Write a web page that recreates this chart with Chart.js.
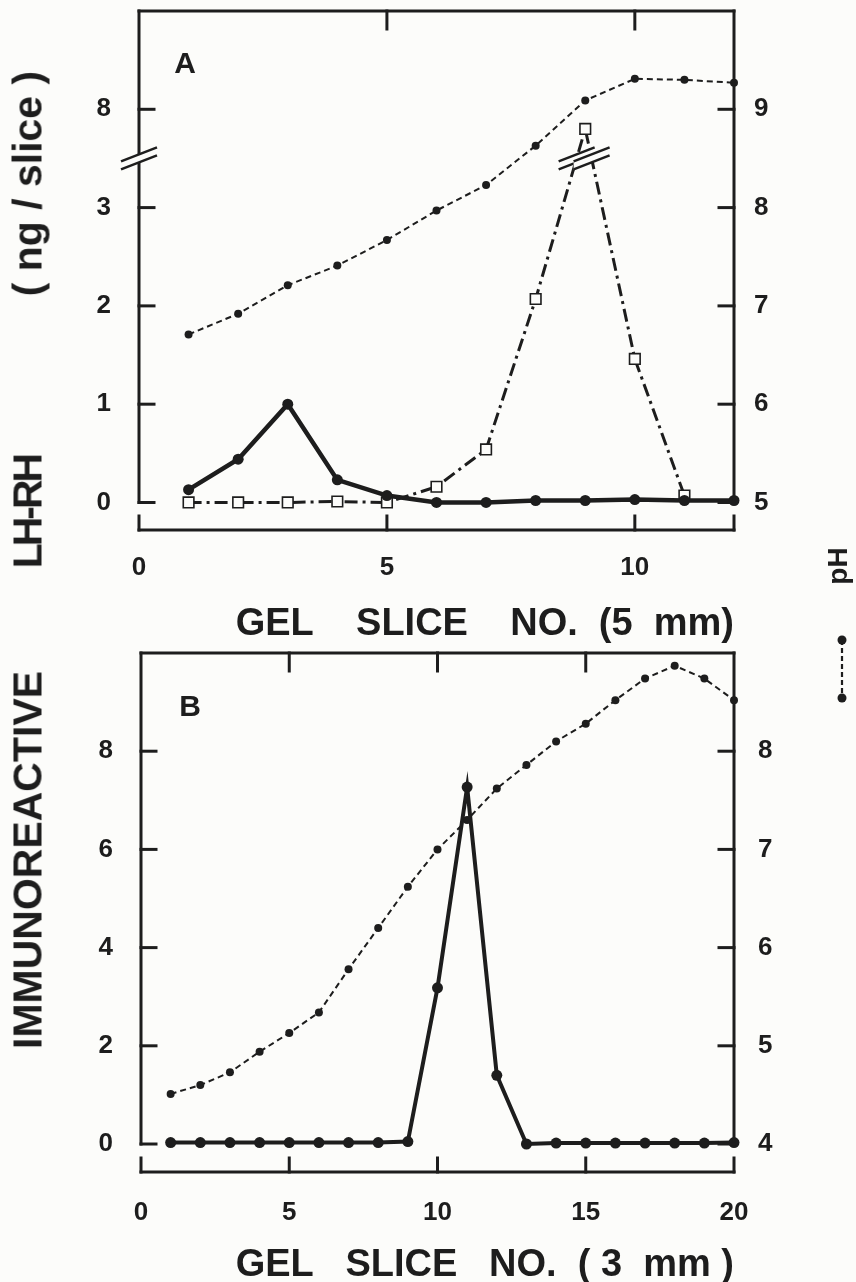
<!DOCTYPE html>
<html>
<head>
<meta charset="utf-8">
<script src="https://cdn.jsdelivr.net/npm/chart.js@4.4.1/dist/chart.umd.min.js"></script>
<style>
  html, body { margin: 0; padding: 0; background: #fcfcfa; }
  #page { position: relative; width: 856px; height: 1282px; overflow: hidden; }
  canvas { position: absolute; left: 0; }
  #chartA { top: 0; }
  #chartB { top: 645px; }
  .rot {
    position: absolute;
    transform: translate(-50%, -50%) rotate(-90deg);
    white-space: pre;
    line-height: 1;
    color: #1d1d1d;
    font-family: 'Liberation Sans', Arial, sans-serif;
    font-weight: bold;
  }
  #ytitle { left: 28px; top: 560px; font-size: 41px; }
  #ytitle .narrow { letter-spacing: -3px; }
  #phtitle { left: 838px; top: 566px; font-size: 28px; }
  #phkey { position: absolute; left: 832px; top: 632px; }
</style>
</head>
<body>
<div id="page">
  <canvas id="chartA" width="856" height="645"></canvas>
  <canvas id="chartB" width="856" height="637"></canvas>
  <div id="ytitle" class="rot">IMMUNOREACTIVE         <span class="narrow">LH-RH</span>              ( ng / slice )</div>
  <div id="phtitle" class="rot">pH</div>
  <svg id="phkey" width="20" height="76">
    <line x1="10" y1="8" x2="10" y2="66" stroke="#1d1d1d" stroke-width="2.2" stroke-dasharray="5 3"/>
    <circle cx="10" cy="8" r="4.5" fill="#1d1d1d"/>
    <circle cx="10" cy="66" r="4.5" fill="#1d1d1d"/>
  </svg>
</div>
<script>
/* ============================================================
   LH-RH isoelectric focusing — panels A (5 mm) and B (3 mm)
   ============================================================ */

const INK = '#1d1d1d';
const BG = '#fcfcfa';
const FONT = "'Liberation Sans', Arial, sans-serif";

// ---- Panel A data (slice no., 5 mm) ----
const SLICE_A = [1, 2, 3, 4, 5, 6, 7, 8, 9, 10, 11, 12];
const LHRH_A = [0.13, 0.44, 1.0, 0.23, 0.07, 0.0, 0.0, 0.02, 0.02, 0.03, 0.02, 0.02];
const SQUARES_A = [0.0, 0.0, 0.0, 0.01, 0.0, 0.16, 0.54, 2.07, 7.8, 1.46, 0.07];
const PH_A = [6.71, 6.92, 7.21, 7.41, 7.67, 7.97, 8.23, 8.63, 9.09, 9.31, 9.30, 9.27];
const X_TICKS_A = [0, 5, 10];
const Y_TICKS_A = [0, 1, 2, 3, 8];
const PH_TICKS_A = [5, 6, 7, 8, 9];

// ---- Panel B data (slice no., 3 mm) ----
const SLICE_B = [1, 2, 3, 4, 5, 6, 7, 8, 9, 10, 11, 12, 13, 14, 15, 16, 17, 18, 19, 20];
const LHRH_B = [0.03, 0.03, 0.03, 0.03, 0.03, 0.03, 0.03, 0.03, 0.05, 3.18, 7.27, 1.4,
                0.0, 0.02, 0.02, 0.02, 0.02, 0.02, 0.02, 0.03];
const PH_B = [4.51, 4.6, 4.73, 4.94, 5.13, 5.34, 5.78, 6.2, 6.62, 7.0, 7.3, 7.62,
              7.86, 8.1, 8.28, 8.52, 8.74, 8.87, 8.74, 8.52];
const X_TICKS_B = [0, 5, 10, 15, 20];
const Y_TICKS_B = [0, 2, 4, 6, 8];
const PH_TICKS_B = [4, 5, 6, 7, 8];

// broken left axis in panel A: 3.5 .. 7.5 is cut out
const BREAK_LO = 3.5;
const BREAK_HI = 7.5;
const toAxisA = v => (v == null ? null : (v <= BREAK_LO ? v : v - (BREAK_HI - BREAK_LO)));
const fromAxisA = v => (v <= BREAK_LO ? v : v + (BREAK_HI - BREAK_LO));

const pts = (xs, ys, f = v => v) => ys.map((v, i) => ({ x: xs[i], y: f(v) }));

// ============================================================
// FRAME PLUGIN — box, inward ticks, offset x bar, breaks, panel letter
// ============================================================

const framePlugin = {
  id: 'frame',
  afterDatasetsDraw(chart, args, opts) {
    const { ctx, chartArea: a, scales } = chart;
    const x = scales.x, y = scales.y, y2 = scales.y2;
    const xL = x.getPixelForValue(x.min);
    const xR = x.getPixelForValue(x.max);
    const y0 = y.getPixelForValue(0);

    const line = (x1, y1, x2, y2_) => {
      ctx.beginPath(); ctx.moveTo(x1, y1); ctx.lineTo(x2, y2_); ctx.stroke();
    };

    ctx.save();
    ctx.strokeStyle = INK;
    ctx.lineWidth = 3;
    ctx.lineCap = 'square';

    // open box: left, top, right (down to zero level)
    line(xL, y0, xL, a.top);
    line(xL, a.top, xR, a.top);
    line(xR, a.top, xR, y0);

    // inward ticks
    y.ticks.forEach(t => { const p = y.getPixelForValue(t.value); line(xL, p, xL + 15, p); });
    y2.ticks.forEach(t => { const p = y2.getPixelForValue(t.value); line(xR, p, xR - 15, p); });
    x.ticks.forEach(t => {
      if (t.value > x.min && t.value < x.max) {
        const p = x.getPixelForValue(t.value);
        line(p, a.top, p, a.top + 18);
      }
    });

    // offset x bar with upward ticks
    line(xL, a.bottom, xR, a.bottom);
    const barTicks = new Set([x.min, ...x.ticks.map(t => t.value), x.max]);
    barTicks.forEach(v => { const p = x.getPixelForValue(v); line(p, a.bottom, p, a.bottom - 14); });

    // axis breaks "//"
    const mark = (cx, cy) => {
      const dx = 18, dy = 7, g = 4;
      ctx.save();
      ctx.fillStyle = BG;
      ctx.beginPath();
      ctx.moveTo(cx - dx, cy + dy - g);
      ctx.lineTo(cx + dx, cy - dy - g);
      ctx.lineTo(cx + dx, cy - dy + g);
      ctx.lineTo(cx - dx, cy + dy + g);
      ctx.closePath();
      ctx.fill();
      ctx.lineWidth = 2.5;
      ctx.lineCap = 'butt';
      line(cx - dx, cy + dy - g, cx + dx, cy - dy - g);
      line(cx - dx, cy + dy + g, cx + dx, cy - dy + g);
      ctx.restore();
    };
    if (opts.breakAt != null) {
      const yb = y.getPixelForValue(opts.breakAt);
      mark(xL, yb);
      const meta = chart.getDatasetMeta(opts.breakDataset);
      const data = chart.data.datasets[opts.breakDataset].data;
      for (let i = 1; i < data.length; i++) {
        const v0 = data[i - 1].y, v1 = data[i].y;
        if ((v0 - opts.breakAt) * (v1 - opts.breakAt) < 0) {
          const f = (opts.breakAt - v0) / (v1 - v0);
          const p0 = meta.data[i - 1], p1 = meta.data[i];
          mark(p0.x + f * (p1.x - p0.x), p0.y + f * (p1.y - p0.y));
        }
      }
    }

    // panel letter
    ctx.fillStyle = INK;
    ctx.font = 'bold 30px ' + FONT;
    ctx.textAlign = 'center';
    ctx.textBaseline = 'middle';
    ctx.fillText(opts.letter, a.left + opts.letterDx, a.top + opts.letterDy);
    ctx.restore();
  },
};

Chart.register(framePlugin);

// ============================================================
// COMMON OPTIONS
// ============================================================

const TICK_FONT = { family: FONT, size: 26, weight: 'bold' };
const TITLE_FONT = { family: FONT, size: 38, weight: 'bold', lineHeight: 1 };

// no extra room for half tick labels: the plot box is placed by hand
function _noPad(s) {
  s.paddingTop = 0; s.paddingBottom = 0; s.paddingLeft = 0; s.paddingRight = 0;
}

function _axis(extra) {
  return Object.assign({
    type: 'linear',
    grid: { display: false, drawTicks: false },
    border: { display: false },
  }, extra);
}

function _options(cfg) {
  return {
    responsive: false,
    animation: false,
    devicePixelRatio: 1,
    layout: { padding: { top: cfg.padTop, left: 0, right: 0, bottom: 0 } },
    plugins: {
      legend: { display: false },
      tooltip: { enabled: false },
      frame: cfg.frame,
    },
    scales: {
      x: _axis({
        position: 'bottom',
        min: 0,
        max: cfg.xMax,
        afterBuildTicks: s => { s.ticks = cfg.xTicks.map(v => ({ value: v })); },
        afterFit: s => { s.height = cfg.xHeight; _noPad(s); },
        ticks: { color: INK, font: TICK_FONT, padding: cfg.xPad, maxRotation: 0, autoSkip: false },
        title: {
          display: true, text: cfg.xTitle, align: 'end', color: INK,
          font: TITLE_FONT, padding: { top: 0, bottom: cfg.titlePad },
        },
      }),
      y: _axis({
        position: 'left',
        min: cfg.yMin,
        max: cfg.yMax,
        afterBuildTicks: s => { s.ticks = cfg.yTicks.map(v => ({ value: v })); },
        afterFit: s => { s.width = cfg.leftWidth; _noPad(s); },
        ticks: { color: INK, font: TICK_FONT, padding: 28, callback: cfg.yLabel },
      }),
      y2: _axis({
        position: 'right',
        min: cfg.phMin,
        max: cfg.phMax,
        afterBuildTicks: s => { s.ticks = cfg.phTicks.map(v => ({ value: v })); },
        afterFit: s => { s.width = cfg.rightWidth; _noPad(s); },
        ticks: { color: INK, font: TICK_FONT, padding: cfg.rPad },
      }),
    },
  };
}

const phStyle = {
  yAxisID: 'y2', borderColor: INK, borderWidth: 2, borderDash: [6, 4],
  pointRadius: 4, pointBackgroundColor: INK, pointBorderWidth: 0, clip: false,
};
const lhrhStyle = {
  yAxisID: 'y', borderColor: INK, borderWidth: 4.5,
  pointRadius: 5.5, pointBackgroundColor: INK, pointBorderWidth: 0, clip: false,
};

// ============================================================
// PANEL A
// ============================================================

new Chart(document.getElementById('chartA'), {
  type: 'line',
  data: {
    datasets: [
      Object.assign({ data: pts(SLICE_A, PH_A) }, phStyle),
      Object.assign({ data: pts(SLICE_A, LHRH_A, toAxisA) }, lhrhStyle),
      {
        data: pts(SLICE_A, SQUARES_A, toAxisA),
        yAxisID: 'y', borderColor: INK, borderWidth: 3, borderDash: [13, 5, 3, 5],
        pointStyle: 'rect', pointRadius: 7.5, pointBackgroundColor: BG,
        pointBorderColor: INK, pointBorderWidth: 1.6, clip: false,
      },
    ],
  },
  options: _options({
    padTop: 11, xHeight: 115, leftWidth: 139, rightWidth: 122, titlePad: 1,
    xPad: 22, rPad: 20,
    xMax: 12, xTicks: X_TICKS_A, xTitle: 'GEL    SLICE    NO.  (5  mm)',
    yMin: -0.28, yMax: 5, yTicks: Y_TICKS_A.map(toAxisA), yLabel: v => String(fromAxisA(v)),
    phMin: 4.72, phMax: 10, phTicks: PH_TICKS_A,
    frame: { letter: 'A', letterDx: 46, letterDy: 54, breakAt: BREAK_LO, breakDataset: 2 },
  }),
});

// ============================================================
// PANEL B
// ============================================================

new Chart(document.getElementById('chartB'), {
  type: 'line',
  data: {
    datasets: [
      Object.assign({ data: pts(SLICE_B, PH_B) }, phStyle),
      Object.assign({ data: pts(SLICE_B, LHRH_B) }, lhrhStyle, { borderWidth: 4 }),
    ],
  },
  options: _options({
    padTop: 8, xHeight: 110, leftWidth: 141, rightWidth: 122, titlePad: -3,
    xPad: 25, rPad: 24,
    xMax: 20, xTicks: X_TICKS_B, xTitle: 'GEL   SLICE   NO.  ( 3  mm )',
    yMin: -0.57, yMax: 10, yTicks: Y_TICKS_B, yLabel: v => String(v),
    phMin: 3.715, phMax: 9, phTicks: PH_TICKS_B,
    frame: { letter: 'B', letterDx: 49, letterDy: 55 },
  }),
});
</script>
</body>
</html>
